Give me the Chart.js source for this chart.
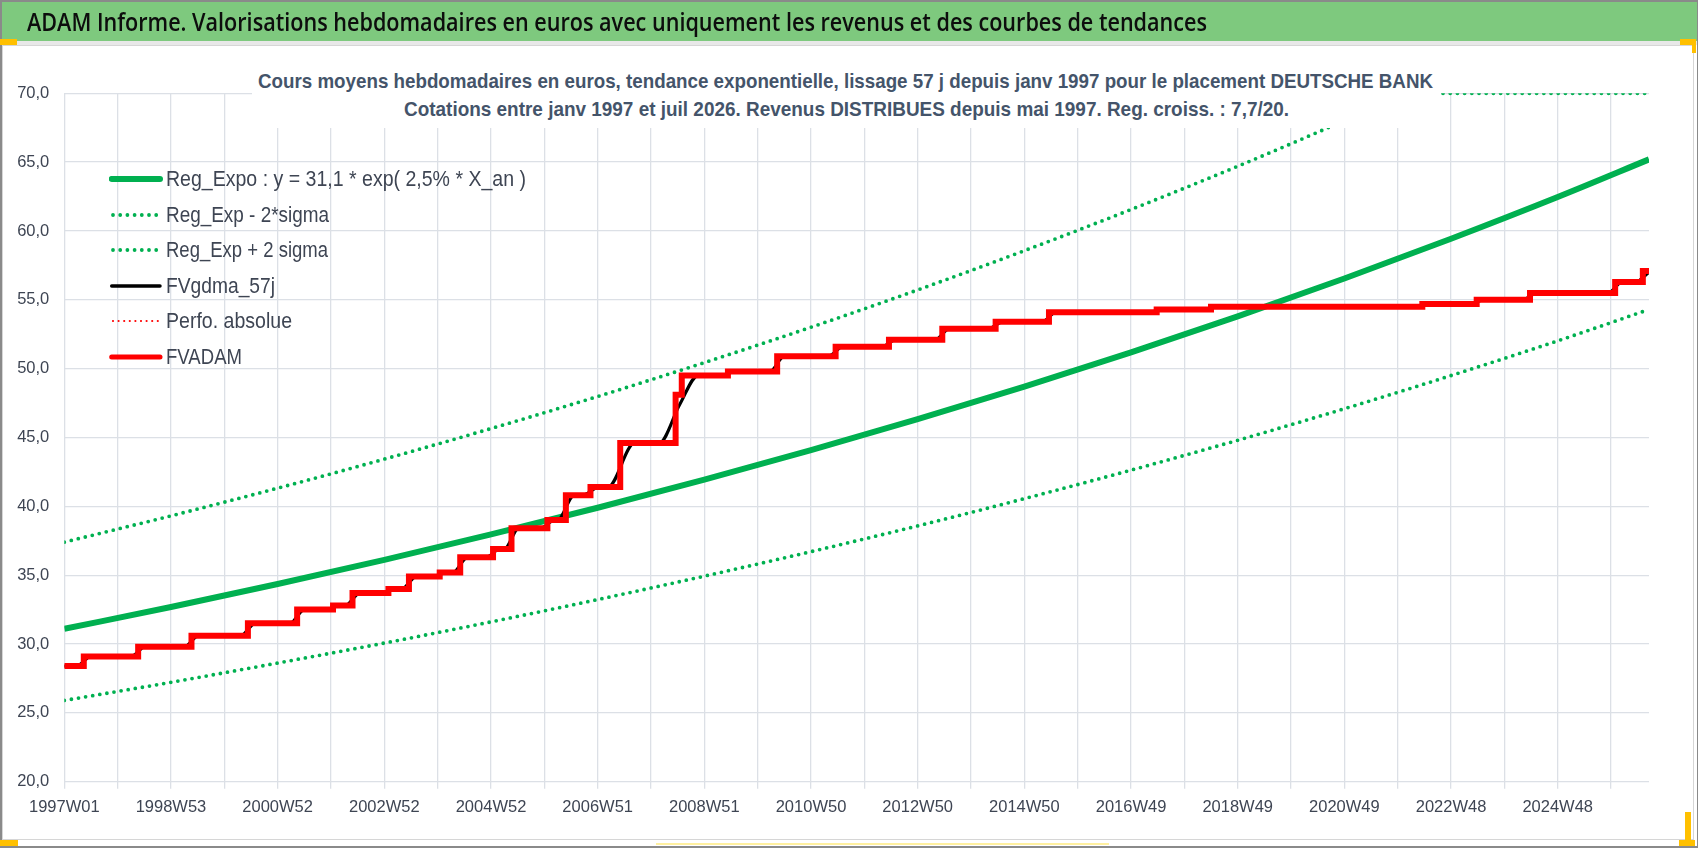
<!DOCTYPE html>
<html><head><meta charset="utf-8">
<script src="https://cdn.jsdelivr.net/npm/chart.js@4.4.1/dist/chart.umd.min.js"></script>
<style>
html,body{margin:0;padding:0;background:#fff;}
#wrap{position:relative;width:1698px;height:848px;overflow:hidden;background:#fff;}
.abs{position:absolute;}
#c{position:absolute;left:0;top:0;z-index:2;}
.txt{position:absolute;white-space:nowrap;display:inline-block;transform-origin:left center;font-family:"Liberation Sans Narrow","Liberation Sans",Arial,sans-serif;}
.lg{font-size:22px;line-height:22px;color:#3E4553;}
.sub{font-size:21px;line-height:21px;font-weight:bold;color:#44546A;}
#title{font-family:"Open Sans","Liberation Sans",sans-serif;font-weight:600;}
</style></head><body>
<div id="wrap">
  <!-- frame / decoration -->
  <div class="abs" style="left:0;top:0;width:1698px;height:41px;background:#7EC97E;z-index:1"></div>
  <div class="abs" style="left:0;top:41px;width:1698px;height:4px;background:#E8E8E8;z-index:1"></div>
  <div class="abs" style="left:2px;top:45px;width:1690px;height:793px;border:1px solid #D6D6D6;z-index:1"></div>
  <div class="abs" style="left:0;top:0;width:1698px;height:848px;box-sizing:border-box;border:2px solid #8A8A8A;border-right-width:1px;z-index:5;pointer-events:none"></div>
  <div class="abs" style="left:0;top:39px;width:17px;height:6px;background:#FFC000;z-index:6"></div>
  <div class="abs" style="left:1680px;top:39px;width:16px;height:6px;background:#FFC000;z-index:6"></div>
  <div class="abs" style="left:1692px;top:39px;width:4px;height:14px;background:#FFC000;z-index:6"></div>
  <div class="abs" style="left:0;top:840px;width:18px;height:6px;background:#FFC000;z-index:6"></div>
  <div class="abs" style="left:1685px;top:812px;width:6px;height:34px;background:#FFC000;z-index:6"></div>
  <div class="abs" style="left:1679px;top:840px;width:16px;height:6px;background:#FFC000;z-index:6"></div>
  <div class="abs" style="left:656px;top:843px;width:453px;height:2px;background:#FFF0A0;z-index:6"></div>

  <span id="title" class="txt" style="left:27px;top:9px;font-size:25px;line-height:25px;color:#0D0D0D;z-index:3">ADAM Informe. Valorisations hebdomadaires en euros avec uniquement les revenus et des courbes de tendances</span>

  <canvas id="c" width="1698" height="848"></canvas>

  <!-- subtitle box (inside plot, opaque) -->
  <div class="abs" style="left:252px;top:58px;width:1189px;height:70px;background:#fff;z-index:3"></div>
  <span id="sub1" class="txt sub" style="left:258px;top:69.5px;z-index:4">Cours moyens hebdomadaires en euros, tendance exponentielle, lissage 57 j depuis janv 1997 pour le placement DEUTSCHE BANK</span>
  <span id="sub2" class="txt sub" style="left:404px;top:97.5px;z-index:4">Cotations entre janv 1997 et juil 2026. Revenus DISTRIBUES depuis mai 1997. Reg. croiss. : 7,7/20.</span>

  <!-- legend -->
  <div id="legend" class="abs" style="left:0;top:0;z-index:4"></div>
</div>
<script>
// ---------------- DATA ----------------
const weekLabels = ['1997W01','1998W53','2000W52','2002W52','2004W52','2006W51','2008W51','2010W50','2012W50','2014W50','2016W49','2018W49','2020W49','2022W48','2024W48'];
const lastWeek = 1545; // index of last weekly quotation (juil 2026)

const trendWeeks  = [0,104,208,312,416,520,624,728,832,936,1040,1144,1248,1352,1456,1545];
const regExpo     = [31.10,32.69,34.36,36.11,37.96,39.90,41.94,44.08,46.33,48.70,51.19,53.80,56.55,59.44,62.47,65.20];
const regExpMinus = [25.90,27.22,28.62,30.07,31.61,33.23,34.93,36.71,38.58,40.56,42.63,44.80,47.09,49.50,52.02,54.30];

const plusWeeks   = [0,104,208,312,416,520,624,728,832,936,1040,1144,1248,1309,1545];
const regExpPlus  = [37.40,39.31,41.32,43.43,45.65,47.98,50.44,53.01,55.72,58.57,61.56,64.70,68.01,70.0,70.0];

const fvadamWeeks  = [0,19,72,124,179,227,262,281,316,336,366,386,418,436,471,489,513,542,596,602,647,695,752,804,856,908,960,1065,1118,1324,1377,1429,1512,1539,1545];
const fvadamValues = [28.4,29.1,29.8,30.6,31.5,32.5,32.8,33.7,34.0,34.9,35.2,36.3,36.9,38.4,39.0,40.8,41.4,44.6,48.1,49.5,49.8,50.9,51.6,52.1,52.9,53.4,54.1,54.3,54.5,54.7,55.0,55.5,56.3,57.1,57.1];

const fvgdmaWeeks  = [0,12,26,65,79,117,131,172,186,220,234,255,269,274,288,309,323,329,343,359,373,379,393,411,425,429,443,464,478,481,497,505,521,530,556,580,600,618,640,654,688,702,745,759,797,811,849,863,901,915,953,967,1058,1072,1111,1125,1317,1331,1370,1384,1422,1436,1505,1519,1532,1545];
const fvgdmaValues = [28.4,28.4,29.1,29.1,29.8,29.8,30.6,30.6,31.5,31.5,32.5,32.5,32.8,32.8,33.7,33.7,34.0,34.0,34.9,34.9,35.2,35.2,36.3,36.3,36.9,36.9,38.4,38.4,39.0,39.0,40.8,40.8,41.4,41.4,44.6,44.6,47.4,49.5,49.5,49.8,49.8,50.9,50.9,51.6,51.6,52.1,52.1,52.9,52.9,53.4,53.4,54.1,54.1,54.3,54.3,54.5,54.5,54.7,54.7,55.0,55.0,55.5,55.5,56.3,56.3,57.0];

const yMin = 20, yMax = 70, yStep = 5;

// ---------------- CHART ----------------
const GREEN = '#00B050', RED = '#FF0000';
const xy = (xs, ys) => xs.map((x, i) => ({x: x, y: ys[i]}));

function fontAvailable(name){
  const c = document.createElement('canvas').getContext('2d');
  c.font = '40px monospace'; const a = c.measureText('abcdefghW0123').width;
  c.font = '40px "' + name + '", monospace'; const b = c.measureText('abcdefghW0123').width;
  return Math.abs(a - b) > 0.5;
}
const narrow = fontAvailable('Liberation Sans Narrow');
const tickFamily = narrow ? '"Liberation Sans Narrow"' : '"Liberation Sans", Arial, sans-serif';
const TICK_COLOR = '#3E4553', GRID = '#DCE0E6';

const legendItems = [
  {label:'Reg_Expo : y = 31,1 * exp( 2,5% *  X_an )', color:GREEN, width:6, dots:false, w:360},
  {label:'Reg_Exp - 2*sigma', color:GREEN, width:3.8, dots:true, gap:7.2, w:163},
  {label:'Reg_Exp + 2 sigma', color:GREEN, width:3.8, dots:true, gap:7.2, w:162},
  {label:'FVgdma_57j', color:'#000000', width:3.5, dots:false, w:109},
  {label:'Perfo. absolue', color:RED, width:2.2, dots:true, gap:5.6, w:126},
  {label:'FVADAM', color:RED, width:5, dots:false, w:76}
];

new Chart(document.getElementById('c'), {
  type: 'line',
  data: { datasets: [
    {label: legendItems[5].label, data: xy(fvadamWeeks, fvadamValues), borderColor: RED, borderWidth: 6, stepped: 'before', order: 0, borderJoinStyle:'miter'},
    {label: legendItems[4].label, data: xy(fvadamWeeks, fvadamValues), borderColor: RED, borderWidth: 1.5, borderDash:[2,3], stepped: 'before', order: 1},
    {label: legendItems[3].label, data: xy(fvgdmaWeeks, fvgdmaValues), borderColor: '#000000', borderWidth: 3.2, cubicInterpolationMode: 'monotone', order: 2},
    {label: legendItems[0].label, data: xy(trendWeeks, regExpo), borderColor: GREEN, borderWidth: 6, cubicInterpolationMode: 'monotone', order: 3},
    {label: legendItems[1].label, data: xy(trendWeeks, regExpMinus), borderColor: GREEN, borderWidth: 3.8, borderDash:[0, 7.2], borderCapStyle:'round', cubicInterpolationMode: 'monotone', order: 4},
    {label: legendItems[2].label, data: xy(plusWeeks, regExpPlus), borderColor: GREEN, borderWidth: 3.8, borderDash:[0, 7.2], borderCapStyle:'round', cubicInterpolationMode: 'monotone', order: 5}
  ]},
  options: {
    responsive: false, animation: false, devicePixelRatio: 1,
    elements: { point: { radius: 0, hoverRadius: 0 }, line: { fill: false } },
    layout: { padding: { left: 0, right: 49, top: 93.3, bottom: 0 } },
    plugins: { legend: { display: false }, tooltip: { enabled: false }, title: { display: false } },
    scales: {
      x: {
        type: 'linear', min: 0, max: lastWeek,
        afterFit: s => { s.height = 66.3; },
        border: { display: false },
        grid: { color: GRID, lineWidth: 1.3, tickLength: 7, drawTicks: true },
        ticks: {
          stepSize: 52, includeBounds: false, autoSkip: false, maxRotation: 0, minRotation: 0,
          padding: 9, color: TICK_COLOR,
          font: { family: tickFamily, size: narrow ? 18 : 16.5 },
          callback: v => (v % 104 === 0 && weekLabels[v / 104]) ? weekLabels[v / 104] : ''
        }
      },
      y: {
        min: yMin, max: yMax,
        afterFit: s => { s.width = 64.3; },
        border: { display: false },
        grid: { color: GRID, lineWidth: 1.3, drawTicks: false },
        ticks: {
          stepSize: yStep, padding: 15, color: TICK_COLOR,
          font: { family: tickFamily, size: narrow ? 17.5 : 16.5 },
          callback: v => Number(v).toFixed(1).replace('.', ',')
        }
      }
    }
  }
});

// ---------------- HTML legend (inside plot, transparent) ----------------
const lg = document.getElementById('legend');
legendItems.forEach((it, i) => {
  const cy = 179 + i * 35.5;
  const svgNS = 'http://www.w3.org/2000/svg';
  const svg = document.createElementNS(svgNS, 'svg');
  svg.setAttribute('width', '54'); svg.setAttribute('height', '12');
  svg.style.position = 'absolute'; svg.style.left = '109px'; svg.style.top = (cy - 6) + 'px';
  const ln = document.createElementNS(svgNS, 'line');
  ln.setAttribute('x1', it.dots ? '4' : '2.7'); ln.setAttribute('x2', it.dots ? '50' : '51');
  ln.setAttribute('y1', '6'); ln.setAttribute('y2', '6');
  ln.setAttribute('stroke', it.color); ln.setAttribute('stroke-width', it.width);
  if (it.dots) { ln.setAttribute('stroke-dasharray', '0 ' + it.gap); ln.setAttribute('stroke-linecap', 'round'); }
  else { ln.setAttribute('stroke-linecap', 'round'); }
  svg.appendChild(ln); lg.appendChild(svg);
  const sp = document.createElement('span');
  sp.className = 'txt lg'; sp.textContent = it.label;
  sp.style.left = '166px'; sp.style.top = (cy - 10.8) + 'px';
  sp.dataset.w = it.w;
  lg.appendChild(sp);
});

// fit text widths to the reference
function fit(el, w){ el.style.transform = 'none'; const nat = el.getBoundingClientRect().width; el.style.transform = 'scaleX(' + (w / nat) + ')'; }
fit(document.getElementById('title'), 1180);
fit(document.getElementById('sub1'), 1175);
fit(document.getElementById('sub2'), 885);
lg.querySelectorAll('span').forEach(s => fit(s, +s.dataset.w));
</script>
</body></html>
